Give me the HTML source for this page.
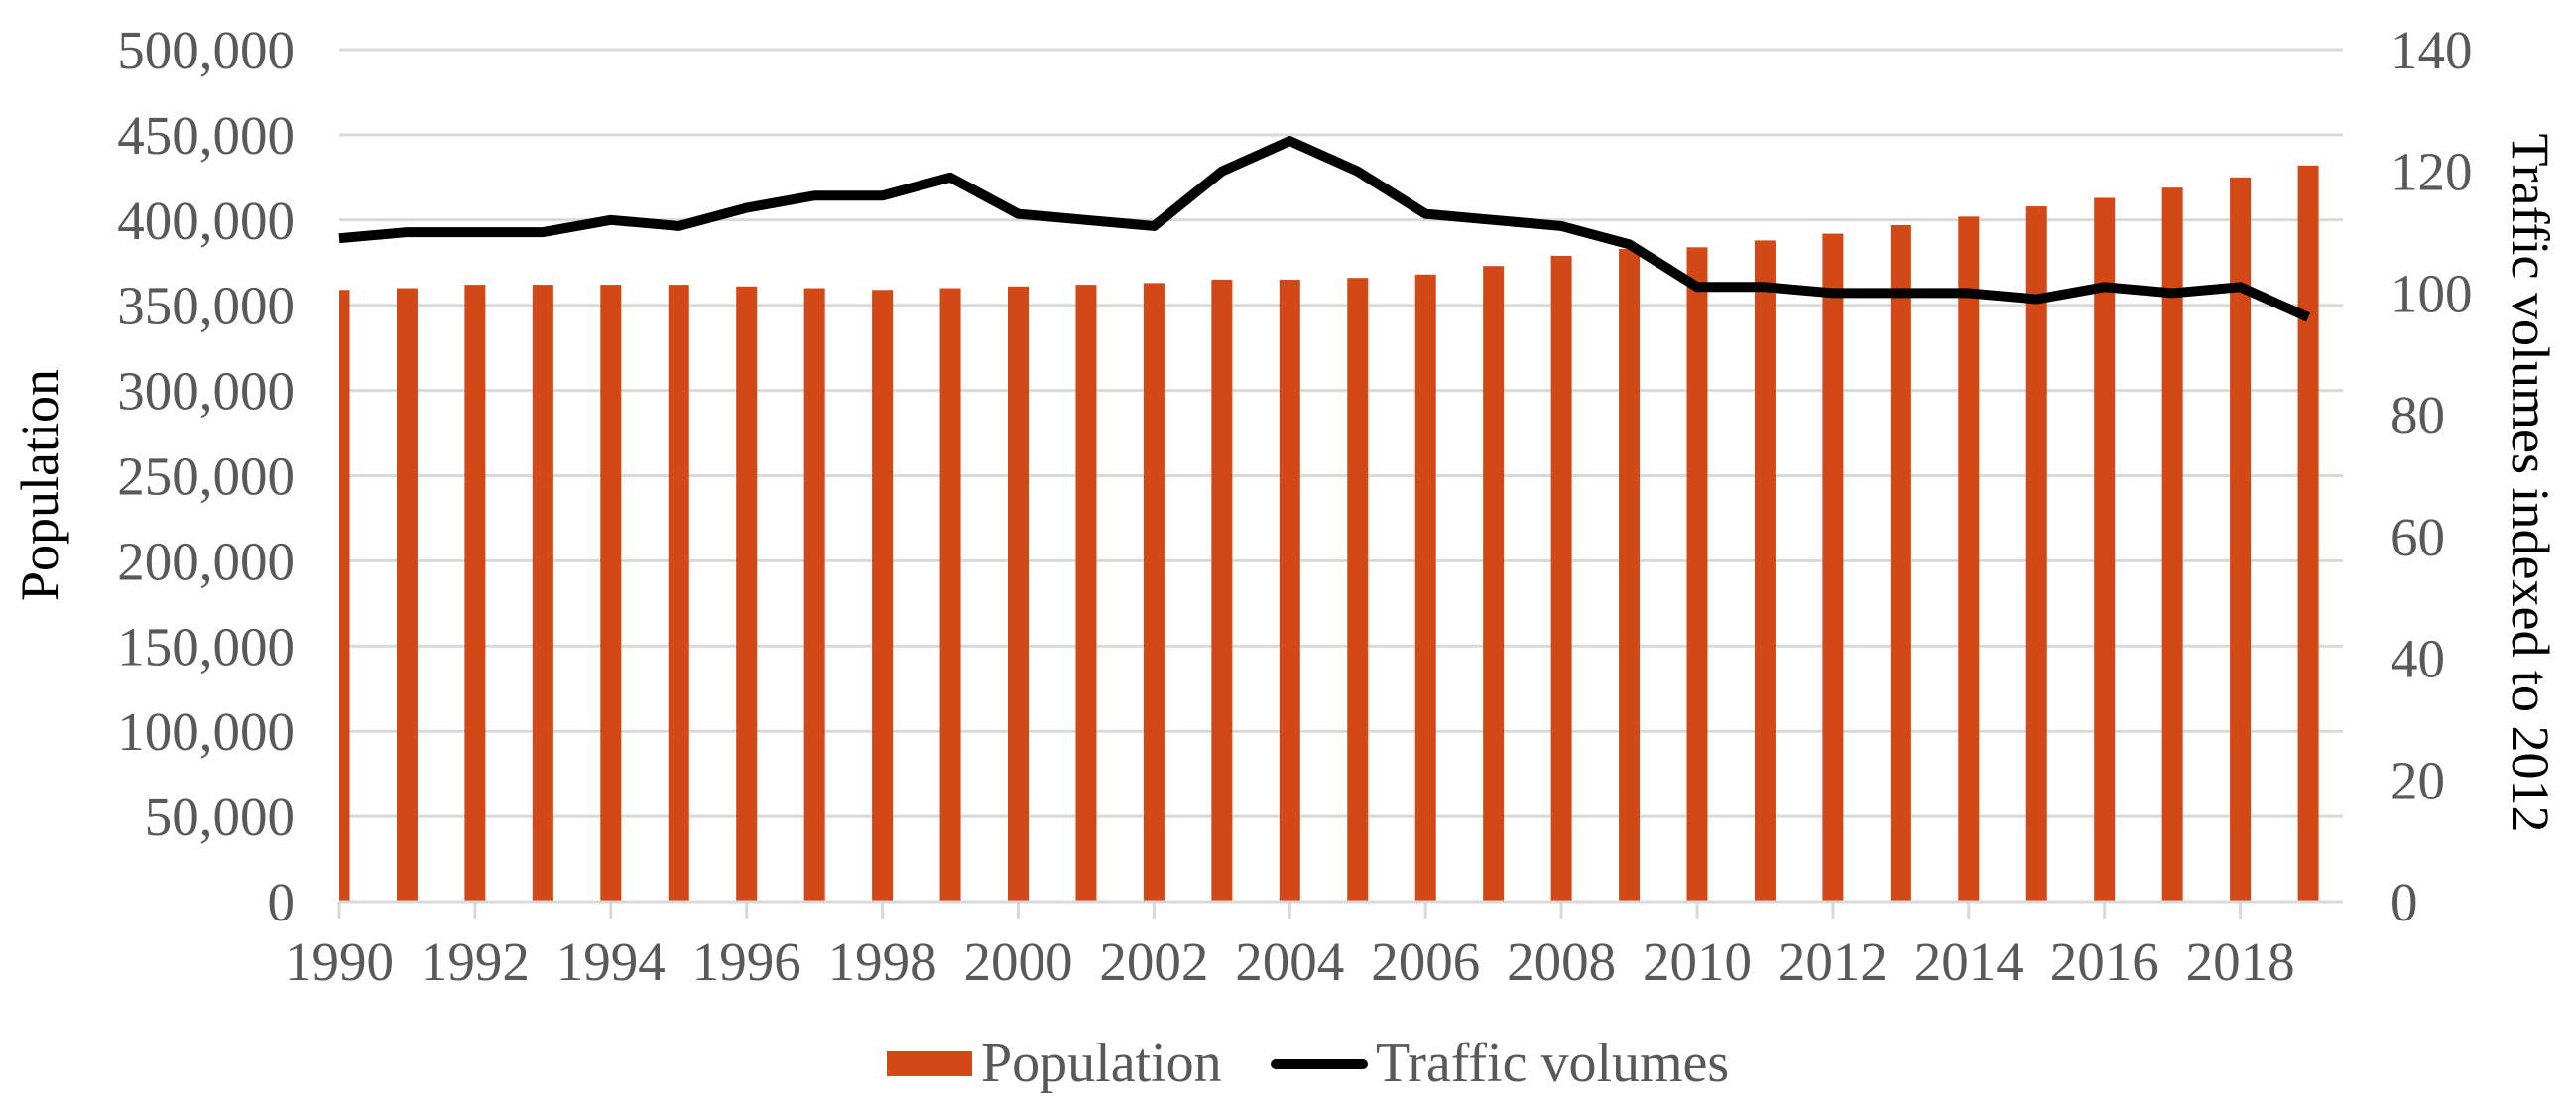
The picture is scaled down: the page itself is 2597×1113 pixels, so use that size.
<!DOCTYPE html>
<html><head><meta charset="utf-8"><style>
html,body{margin:0;padding:0;background:#fff;}
svg{display:block;font-family:"Liberation Serif",serif;}
</style></head><body>
<svg id="chart" width="2597" height="1113" viewBox="0 0 2597 1113">
<g id="grid"></g>
<g id="bars"></g>
<g id="xaxis"></g>
<g id="yleft"></g>
<g id="yright"></g>
<g id="lineg"></g>
<text transform="translate(58,489) rotate(-90)" text-anchor="middle" font-size="54" fill="#000">Population</text>
<text transform="translate(2533,487) rotate(90)" text-anchor="middle" font-size="54" fill="#000">Traffic volumes indexed to 2012</text>
<g>
<rect x="894" y="1060" width="86" height="25" fill="#D34817"/>
<text x="989" y="1090" font-size="56" fill="#595959">Population</text>
<line x1="1286" y1="1073" x2="1374" y2="1073" stroke="#000" stroke-width="10" stroke-linecap="round"/>
<text x="1387" y="1090" font-size="56" fill="#595959">Traffic volumes</text>
</g>
</svg>
<script>
const years = [1990,1991,1992,1993,1994,1995,1996,1997,1998,1999,2000,2001,2002,2003,2004,2005,2006,2007,2008,2009,2010,2011,2012,2013,2014,2015,2016,2017,2018,2019];
const population = [359000,360000,362000,362000,362000,362000,361000,360000,359000,360000,361000,362000,363000,365000,365000,366000,368000,373000,379000,383000,384000,388000,392000,397000,402000,408000,413000,419000,425000,432000];
const traffic = [109,110,110,110,112,111,114,116,116,119,113,112,111,120,125,120,113,112,111,108,101,101,100,100,100,99,101,100,101,96];
const leftTicks = [0,50000,100000,150000,200000,250000,300000,350000,400000,450000,500000];
const rightTicks = [0,20,40,60,80,100,120,140];

const NS="http://www.w3.org/2000/svg";
const X0=342, X1=2362, STEP=68.45, Y0=909, YTOP=50;
const xs=i=>X0+i*STEP;
const yl=v=>Y0-(v/500000)*(Y0-YTOP);
const yr=v=>Y0-(v/140)*(Y0-YTOP);
function mk(tag,attrs,parent){const e=document.createElementNS(NS,tag);for(const k in attrs)e.setAttribute(k,attrs[k]);parent.appendChild(e);return e;}
const grid=document.getElementById('grid'),bars=document.getElementById('bars'),xa=document.getElementById('xaxis'),yL=document.getElementById('yleft'),yR=document.getElementById('yright'),lg=document.getElementById('lineg');

leftTicks.forEach(v=>{
  if(v>0){const g=mk('line',{x1:X0,x2:X1,y1:yl(v),y2:yl(v),stroke:'#d9d9d9','stroke-width':3},grid);
  
  }
  const t=mk('text',{x:297,y:yl(v)+19,'text-anchor':'end','font-size':55,fill:'#595959'},yL);
  t.textContent=v.toLocaleString('en-US');
  
  
});
rightTicks.forEach(v=>{
  const t=mk('text',{x:2410,y:yr(v)+19,'font-size':55,fill:'#595959'},yR);
  t.textContent=v;
  
  
});
const cp=mk('clipPath',{id:'plotclip'},bars);
mk('rect',{x:X0,y:0,width:X1-X0,height:Y0},cp);
population.forEach((v,i)=>{
  const r=mk('rect',{x:xs(i)-10.5,y:yl(v),width:21,height:Y0-yl(v),fill:'#D34817','clip-path':'url(#plotclip)'},bars);
  
  
});
const ax=mk('line',{x1:X0,x2:X1,y1:Y0,y2:Y0,stroke:'#d9d9d9',"stroke-width":3},xa);


years.forEach((y,i)=>{
  if(i%2===0){
    const tk=mk('line',{x1:xs(i),x2:xs(i),y1:Y0,y2:Y0+17,stroke:'#d9d9d9','stroke-width':3},xa);
    
    
    const t=mk('text',{x:xs(i),y:988,'text-anchor':'middle','font-size':55,fill:'#595959'},xa);
    t.textContent=y;
    
    
  }
});
const pl=mk('polyline',{points:traffic.map((v,i)=>xs(i)+','+yr(v)).join(' '),fill:'none',stroke:'#000','stroke-width':10,'stroke-linejoin':'round'},lg);


</script>
</body></html>
